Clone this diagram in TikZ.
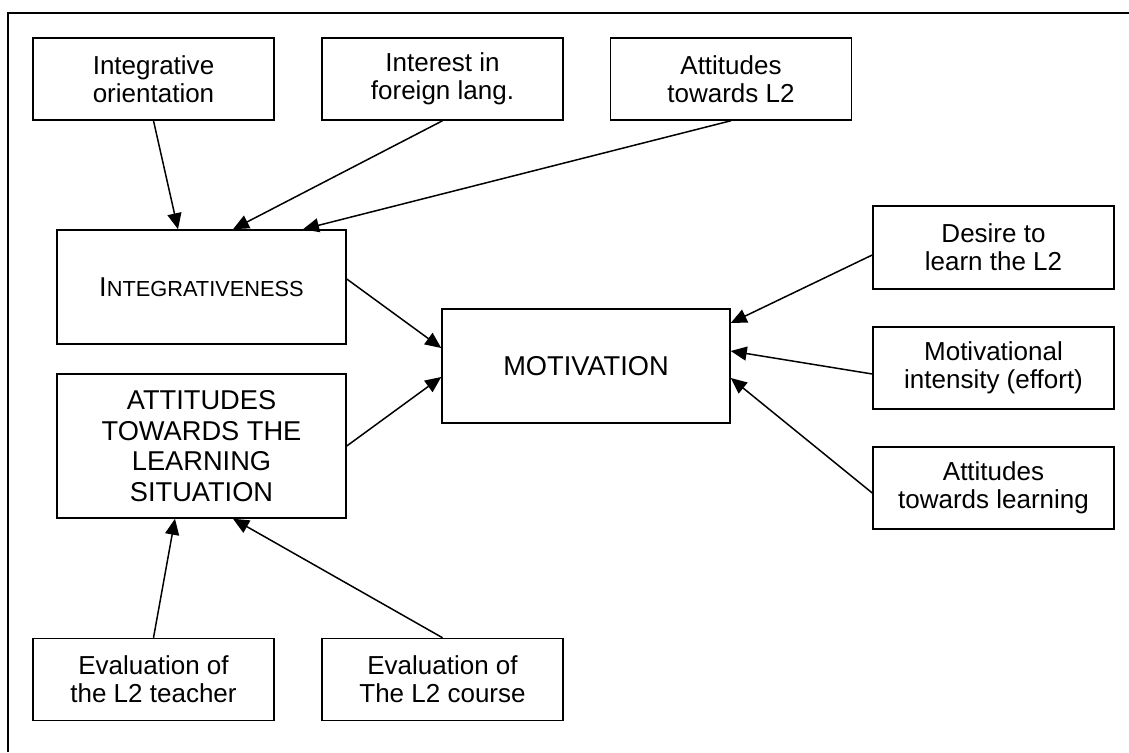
\documentclass[tikz,border=0pt]{standalone}
\usepackage{fontspec}
\setmainfont{Liberation Sans}
\usetikzlibrary{positioning,arrows.meta,calc}

\begin{document}
\begin{tikzpicture}[
  box/.style={draw,line width=0.85pt,minimum width=4.82cm,minimum height=1.64cm,
              align=center,inner sep=0pt,font=\fontsize{14.8}{15.9}\selectfont},
  bigbox/.style={draw,line width=0.85pt,minimum width=5.78cm,align=center,
              inner sep=0pt,font=\fontsize{15.5}{17.4}\selectfont},
  ar/.style={-{Triangle[length=3.2mm,width=2.8mm]},line width=0.85pt}]

\useasboundingbox (0,0) rectangle (22.58,15.04);
\draw[line width=1.1pt] (0.16,0) -- (0.16,14.78) -- (22.58,14.78);

% ---- sources of integrativeness (top) ----
\node[box] (intori) at (3.07,13.46) {Integrative\\orientation};
\node[box] (intfor) at (8.85,13.46) {Interest in\\foreign lang.};
\node[box] (attl2)  at (14.62,13.46) {Attitudes\\towards L2};

% ---- the two attitude clusters and motivation ----
\node[bigbox,minimum height=2.28cm] (integ) at (4.03,9.30)
  {I{\fontsize{12.4}{14}\selectfont NTEGRATIVENESS}};
\node[bigbox,minimum height=2.88cm] (attls) at (4.03,6.12)
  {ATTITUDES\\TOWARDS THE\\LEARNING\\SITUATION};
\node[bigbox,minimum width=5.76cm,minimum height=2.28cm] (motiv) at (11.72,7.72)
  {MOTIVATION};

% ---- components of motivation (right) ----
\node[box,minimum height=1.66cm] (desire) at (19.87,10.09) {Desire to\\learn the L2};
\node[box] (effort) at (19.87,7.68) {Motivational\\intensity (effort)};
\node[box] (attlrn) at (19.87,5.28) {Attitudes\\towards learning};

% ---- evaluations (bottom) ----
\node[box] (evteach)  at (3.07,1.45) {Evaluation of\\the L2 teacher};
\node[box] (evcourse) at (8.85,1.45) {Evaluation of\\The L2 course};

% ---- arrows ----
\draw[ar] (intori.south) -- ($(integ.north)+(-0.47,0)$);
\draw[ar] (intfor.south) -- ($(integ.north)+(0.63,0)$);
\draw[ar] (attl2.south)  -- ($(integ.north)+(2.03,0)$);

\draw[ar] ($(integ.east)+(0,0.16)$) -- ($(motiv.west)+(0,0.36)$);
\draw[ar] (attls.east) -- ($(motiv.west)+(0,-0.22)$);

\draw[ar] ($(desire.west)+(0,-0.15)$) -- ($(motiv.east)+(0,0.86)$);
\draw[ar] ($(effort.west)+(0,-0.12)$) -- ($(motiv.east)+(0,0.30)$);
\draw[ar] ($(attlrn.west)+(0,-0.10)$) -- ($(motiv.east)+(0,-0.24)$);

\draw[ar] (evteach.north)  -- ($(attls.south)+(-0.53,0)$);
\draw[ar] (evcourse.north) -- ($(attls.south)+(0.63,0)$);
\end{tikzpicture}
\end{document}
